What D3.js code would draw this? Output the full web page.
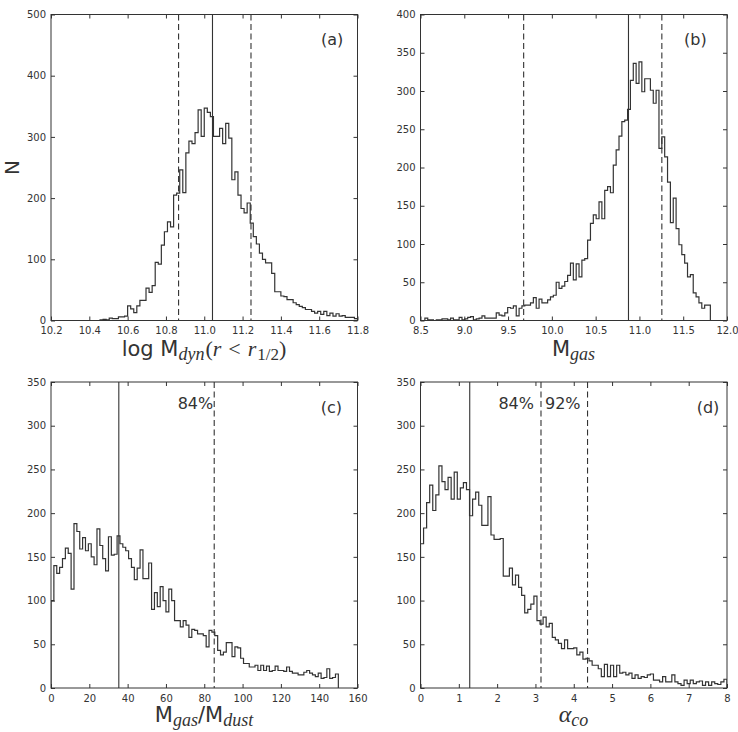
<!DOCTYPE html>
<html>
<head>
<meta charset="utf-8">
<script src="https://cdn.jsdelivr.net/npm/d3@7"></script>
<style>
body { margin: 0; background: #fff; }
text { font-family: "DejaVu Sans", sans-serif; }
</style>
</head>
<body>
<svg id="chart" width="738" height="732"></svg>
<script>
// (a) log Mdyn(r<r1/2): bins of 0.016 starting at 10.456
const dynStart = 10.456, dynWidth = 0.016;
const dynCounts = [1,2,1,4,3,3,6,6,7,
    24,19,13,24,33,33,53,46,57,
    95,92,123,145,161,153,
    205,208,246,209,274,293,289,307,344,301,
    347,340,333,301,301,314,289,322,298,230,
    243,205,183,176,192,159,137,125,110,100,
    94,94,77,47,47,40,39,34,34,29,
    26,23,21,18,18,15,12,15,10,15,
    8,12,7,11,7,8,5,5,5,3];
const dynMedian = 11.043;
const dynBounds = [10.866, 11.244];

// (b) Mgas: 100 bins from 8.55 to 11.81
const gasStart = 8.55, gasWidth = 0.0326;
const gasCounts = [3,1,1,0,1,1,2,2,1,3, 1,1,4,1,2,4,5,1,2,3,
    6,3,3,3,3,10,7,6,10,17, 16,19,6,16,19,20,20,23,30,16,
    28,23,23,27,31,33,50,
    42,45,51,59,75,53,74,57,79,81,
    105,127,138,133,155,133,170,175,167,203,
    223,241,260,262,276,314,336,310,338,299,
    316,316,301,284,301,225,240,214,181,128,
    160,120,99,
    86,75,57,60,36,31,23,16,20,20];
const gasMedian = 10.875;
const gasBounds = [9.678, 11.256];

// (c) Mgas/Mdust: 100 bins from 0 to 150
const ratioStart = 0, ratioWidth = 1.5;
const ratioCounts = [100,140,131,138,148,160,154,113,188,179,
    159,172,157,165,150,141,182,163,148,134,
    173,152,153,174,165,161,157,148,138,124,
    137,158,125,125,143,90,109,93,116,100,
    87,113,100,77,77,70,77,72,58,67,
    66,62,
    62,60,47,66,64,60,43,38,41,52,
    52,36,47,46,34,28,28,24,24,26,
    20,26,20,25,19,20,25,20,20,19,
    24,19,17,17,15,15,18,20,17,15,
    13,17,11,12,22,11,12,16];
const ratioMedian = 35.4;
const ratioBounds = [85.2];
const ratioPercents = ["84%"];

// (d) alpha_co: 100 bins from 0 to 8
const alphaStart = 0, alphaWidth = 0.08;
const alphaCounts = [165,183,212,232,203,221,254,236,227,241,
    216,247,216,229,235,227,
    197,216,224,209,186,186,219,175,170,170,
    171,128,128,137,118,129,115,106,86,90,
    96,105,77,73,81,70,74,58,55,51,
    45,55,45,45,
    46,38,41,33,34,31,26,26,22,13,
    27,13,26,13,26,17,18,15,17,11,
    15,11,13,12,15,16,9,9,7,13,
    7,7,15,7,5,3,9,5,9,5,
    7,8,3,7,3,7,5,4,7,10];
const alphaMedian = 1.285;
const alphaBounds = [3.145, 4.36];
const alphaPercents = ["84%", "92%"];

const panels = [
    {id: "a", start: dynStart, width: dynWidth, counts: dynCounts, median: dynMedian, bounds: dynBounds, percents: [],
     xDomain: [10.2, 11.8], xTicks: d3.range(10.2, 11.81, 0.2), xFmt: d3.format(".1f"),
     yMax: 500, yStep: 100, left: 51, top: 14.5, labelFx: 0.917},
    {id: "b", start: gasStart, width: gasWidth, counts: gasCounts, median: gasMedian, bounds: gasBounds, percents: [],
     xDomain: [8.5, 12.0], xTicks: d3.range(8.5, 12.01, 0.5), xFmt: d3.format(".1f"),
     yMax: 400, yStep: 50, left: 420.5, top: 14.5, labelFx: 0.897},
    {id: "c", start: ratioStart, width: ratioWidth, counts: ratioCounts, median: ratioMedian, bounds: ratioBounds, percents: ratioPercents,
     xDomain: [0, 160], xTicks: d3.range(0, 161, 20), xFmt: d3.format("d"),
     yMax: 350, yStep: 50, left: 51, top: 382, labelFx: 0.915},
    {id: "d", start: alphaStart, width: alphaWidth, counts: alphaCounts, median: alphaMedian, bounds: alphaBounds, percents: alphaPercents,
     xDomain: [0, 8], xTicks: d3.range(0, 8.01, 1), xFmt: d3.format("d"),
     yMax: 350, yStep: 50, left: 420.5, top: 382, labelFx: 0.938}
];

const W = 306.5, H = 306;
const ink = "#333";
const svg = d3.select("#chart");
svg.append("rect").attr("width", 738).attr("height", 732).attr("fill", "#fff");

panels.forEach(p => {
    const g = svg.append("g").attr("transform", `translate(${p.left},${p.top})`);
    const x = d3.scaleLinear().domain(p.xDomain).range([0, W]);
    const y = d3.scaleLinear().domain([0, p.yMax]).range([H, 0]);
    const yTicks = d3.range(0, p.yMax + 1, p.yStep);

    g.append("clipPath").attr("id", "clip-" + p.id)
        .append("rect").attr("width", W).attr("height", H);

    // step outline of the histogram
    const pts = [[p.start, 0]];
    p.counts.forEach((c, i) => {
        pts.push([p.start + i * p.width, c]);
        pts.push([p.start + (i + 1) * p.width, c]);
    });
    pts.push([p.start + p.counts.length * p.width, 0]);
    g.append("path")
        .attr("clip-path", `url(#clip-${p.id})`)
        .attr("d", d3.line().x(d => x(d[0])).y(d => y(d[1]))(pts))
        .attr("fill", "none").attr("stroke", ink).attr("stroke-width", 1.2);

    // median and bounds
    g.append("line")
        .attr("x1", x(p.median)).attr("x2", x(p.median)).attr("y1", 0).attr("y2", H)
        .attr("stroke", ink).attr("stroke-width", 1.1);
    p.bounds.forEach(b => {
        g.append("line")
            .attr("x1", x(b)).attr("x2", x(b)).attr("y1", 0).attr("y2", H)
            .attr("stroke", ink).attr("stroke-width", 1.1).attr("stroke-dasharray", "6,3.5");
    });
    p.percents.forEach((t, i) => {
        g.append("text")
            .attr("x", x(p.bounds[i]) - (p.id === "c" ? 1 : 7)).attr("y", 26.5)
            .attr("text-anchor", "end").attr("font-size", 16).attr("fill", ink)
            .text(t);
    });

    // axes with inward ticks on all four sides
    const styleAxis = sel => {
        sel.select(".domain").remove();
        sel.selectAll("line").attr("stroke", ink);
        sel.selectAll("text").attr("fill", ink).attr("font-size", 10)
            .attr("font-family", "DejaVu Sans, sans-serif");
    };
    g.append("g").attr("transform", `translate(0,${H})`)
        .call(d3.axisBottom(x).tickValues(p.xTicks).tickFormat(p.xFmt).tickSizeInner(-4).tickSizeOuter(0).tickPadding(6.5))
        .call(styleAxis);
    g.append("g")
        .call(d3.axisTop(x).tickValues(p.xTicks).tickFormat("").tickSizeInner(-4).tickSizeOuter(0))
        .call(styleAxis);
    g.append("g")
        .call(d3.axisLeft(y).tickValues(yTicks).tickFormat(d3.format("d")).tickSizeInner(-4).tickSizeOuter(0).tickPadding(5))
        .call(styleAxis);
    g.append("g").attr("transform", `translate(${W},0)`)
        .call(d3.axisRight(y).tickValues(yTicks).tickFormat("").tickSizeInner(-4).tickSizeOuter(0))
        .call(styleAxis);

    g.append("rect").attr("width", W).attr("height", H)
        .attr("fill", "none").attr("stroke", ink).attr("stroke-width", 1);

    g.append("text")
        .attr("x", W * p.labelFx).attr("y", 30.5)
        .attr("text-anchor", "middle").attr("font-size", 16).attr("fill", ink)
        .text(`(${p.id})`);
});

// axis titles
const serif = "Liberation Serif, DejaVu Serif, serif";
function title(cx, cy, parts) {
    const t = svg.append("text").attr("x", cx).attr("y", cy)
        .attr("text-anchor", "middle").attr("fill", ink);
    parts.forEach(pt => {
        const s = t.append("tspan").text(pt.t)
            .attr("font-size", pt.size || 21)
            .attr("font-family", pt.math ? serif : "DejaVu Sans, sans-serif");
        if (pt.italic) s.attr("font-style", "italic");
        if (pt.dy) s.attr("dy", pt.dy);
        if (pt.dx) s.attr("dx", pt.dx);
    });
}
title(204, 356, [
    {t: "log M"},
    {t: "dyn", math: true, italic: true, size: 18, dy: 4},
    {t: "(", math: true, size: 22, dy: -4, dx: 1},
    {t: "r", math: true, italic: true, size: 22},
    {t: "<", math: true, size: 22, dx: 7},
    {t: "r", math: true, italic: true, size: 22, dx: 7},
    {t: "1/2", math: true, size: 17, dy: 4, dx: 1},
    {t: ")", math: true, size: 22, dy: -4}
]);
title(573.5, 356, [
    {t: "M"},
    {t: "gas", math: true, italic: true, size: 18, dy: 4}
]);
title(204, 722, [
    {t: "M"},
    {t: "gas", math: true, italic: true, size: 18, dy: 4},
    {t: "/M", dy: -4},
    {t: "dust", math: true, italic: true, size: 18, dy: 4}
]);
title(573.5, 722, [
    {t: "α", math: true, italic: true, size: 24},
    {t: "co", math: true, italic: true, size: 18, dy: 4}
]);
svg.append("text")
    .attr("transform", "translate(19,167.5) rotate(-90)")
    .attr("text-anchor", "middle").attr("font-size", 20).attr("fill", ink)
    .text("N");
</script>
</body>
</html>
